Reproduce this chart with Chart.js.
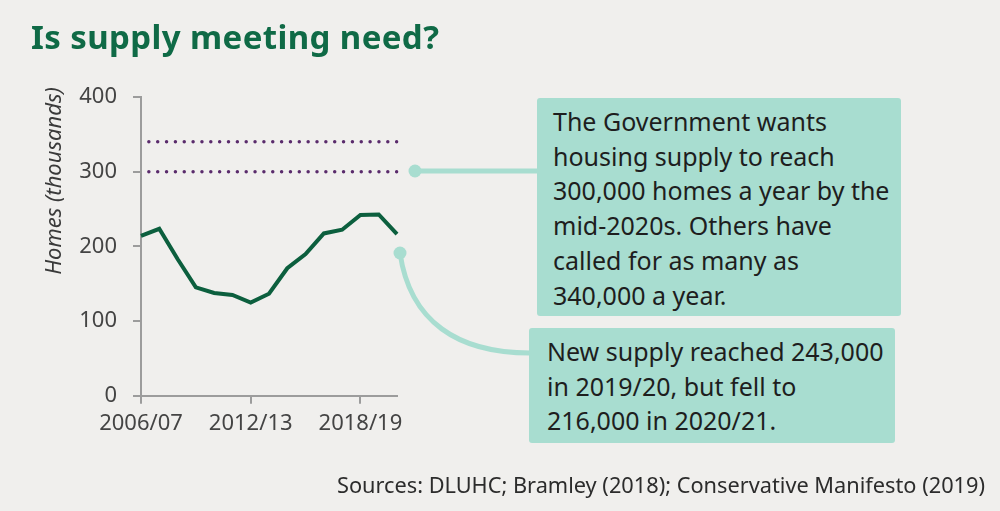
<!DOCTYPE html>
<html lang="en">
<head>
    <meta charset="UTF-8">
    <title>Is supply meeting need?</title>
    <script src="https://cdn.jsdelivr.net/npm/chart.js"></script>
    <style>
        body { margin: 0; background-color: #f0efed; }
        .wrap { position: relative; width: 1000px; height: 511px; font-family: 'Noto Sans', sans-serif; }
        canvas { position: absolute; left: 0; top: 0; }
        .title { position: absolute; left: 31px; top: 21px; font-size: 33px; line-height: 32px; letter-spacing: 0.4px; font-weight: bold; color: #0f6a46; white-space: nowrap; }
        .note { position: absolute; background: #a8ddd0; border-radius: 3px; color: #1e1e1e; font-size: 25px; line-height: 34.7px; white-space: nowrap; box-sizing: border-box; }
        .source { position: absolute; right: 15px; top: 474px; font-size: 21.75px; line-height: 22px; color: #2c2c2c; white-space: nowrap; }
    </style>
</head>
<body>
    <div class="wrap">
        <canvas id="supplyChart" width="1000" height="511"></canvas>
        <div class="title">Is supply meeting need?</div>
        <div class="note" style="left:537px; top:98px; width:364px; height:218px; padding:6px 0 0 16px;">
            The Government wants<br>housing supply to reach<br>300,000 homes a year by the<br>mid-2020s. Others have<br>called for as many as<br>340,000 a year.
        </div>
        <div class="note" style="left:529px; top:328px; width:366px; height:115px; padding:6px 0 0 18px;">
            New supply reached 243,000<br>in 2019/20, but fell to<br>216,000 in 2020/21.
        </div>
        <div class="source">Sources: DLUHC; Bramley (2018); Conservative Manifesto (2019)</div>
    </div>

    <script>
        // Years (financial years) on the x axis
        const years = ['2006/07', '2007/08', '2008/09', '2009/10', '2010/11', '2011/12', '2012/13',
                       '2013/14', '2014/15', '2015/16', '2016/17', '2017/18', '2018/19', '2019/20', '2020/21'];
        const shownYears = ['2006/07', '2012/13', '2018/19'];
        const yTicks = [0, 100, 200, 300, 400];

        // New housing supply, thousands of homes
        const supply = [214, 223.5, 183, 145, 137.5, 135, 124.7, 136.6, 170.7, 189.7, 217.3, 222.3, 241.9, 242.7, 216.5];
        // Targets, thousands of homes a year
        const govTarget = [300, 300, 300, 300, 300, 300, 300, 300, 300, 300, 300, 300, 300, 300, 300];
        const otherTarget = [340, 340, 340, 340, 340, 340, 340, 340, 340, 340, 340, 340, 340, 340, 340];

        const axisGrey = '#9c9c9c';
        const teal = '#a8ddd0';
        const fontName = 'Noto Sans';

        // Y title and the connector lines to the notes
        const extras = {
            id: 'extras',
            afterDraw(chart) {
                const c = chart.ctx;
                c.save();
                c.translate(61, 181);
                c.rotate(-Math.PI / 2);
                c.font = 'italic 22px "' + fontName + '"';
                c.fillStyle = '#3a3a3a';
                c.textAlign = 'center';
                c.textBaseline = 'alphabetic';
                c.fillText('Homes (thousands)', 0, 0);
                c.restore();

                c.save();
                c.strokeStyle = teal;
                c.fillStyle = teal;
                c.lineWidth = 5;
                c.beginPath();
                c.moveTo(415, 171);
                c.lineTo(538, 171);
                c.stroke();
                c.beginPath();
                c.arc(415, 171, 6.5, 0, Math.PI * 2);
                c.fill();

                c.beginPath();
                c.moveTo(400, 253);
                c.bezierCurveTo(410, 322, 458, 353, 530, 353);
                c.stroke();
                c.beginPath();
                c.arc(400, 253, 6.5, 0, Math.PI * 2);
                c.fill();
                c.restore();
            }
        };

        const dotted = {
            borderColor: '#5a2b6c',
            borderWidth: 3.5,
            borderDash: [0, 8.85],
            borderDashOffset: 1,
            borderCapStyle: 'round',
            pointRadius: 0,
            fill: false
        };

        const ctx = document.getElementById('supplyChart').getContext('2d');
        const chart = new Chart(ctx, {
            type: 'line',
            data: {
                labels: years,
                datasets: [
                    Object.assign({ label: 'Others', data: otherTarget }, dotted),
                    Object.assign({ label: 'Government', data: govTarget }, dotted),
                    {
                        label: 'New supply',
                        data: supply,
                        borderColor: '#0c5f3e',
                        borderWidth: 4,
                        pointRadius: 0,
                        tension: 0,
                        fill: false
                    }
                ]
            },
            options: {
                responsive: false,
                animation: false,
                layout: { padding: { top: 97, right: 603, bottom: 0, left: 0 } },
                plugins: {
                    legend: { display: false },
                    tooltip: { enabled: false }
                },
                scales: {
                    x: {
                        type: 'category',
                        offset: false,
                        border: { color: axisGrey, width: 2 },
                        grid: {
                            drawOnChartArea: false,
                            drawTicks: true,
                            tickLength: 8,
                            lineWidth: 2,
                            color: (c) => shownYears.includes(years[c.index]) ? axisGrey : 'rgba(0,0,0,0)'
                        },
                        ticks: {
                            autoSkip: false,
                            maxRotation: 0,
                            padding: 7,
                            color: '#444',
                            font: { family: fontName, size: 22 },
                            callback: (v, i) => shownYears.includes(years[i]) ? years[i] : ''
                        },
                        afterFit: (scale) => { scale.height = 115.3; }
                    },
                    y: {
                        min: 0,
                        max: 400,
                        afterBuildTicks: (scale) => { scale.ticks = yTicks.map(v => ({ value: v })); },
                        border: { color: axisGrey, width: 2 },
                        grid: {
                            drawOnChartArea: false,
                            drawTicks: true,
                            tickLength: 8,
                            lineWidth: 2,
                            color: axisGrey
                        },
                        ticks: {
                            padding: 16,
                            color: '#444',
                            font: { family: fontName, size: 22 }
                        },
                        afterFit: (scale) => { scale.width = 141; }
                    }
                }
            },
            plugins: [extras]
        });
    </script>
</body>
</html>
